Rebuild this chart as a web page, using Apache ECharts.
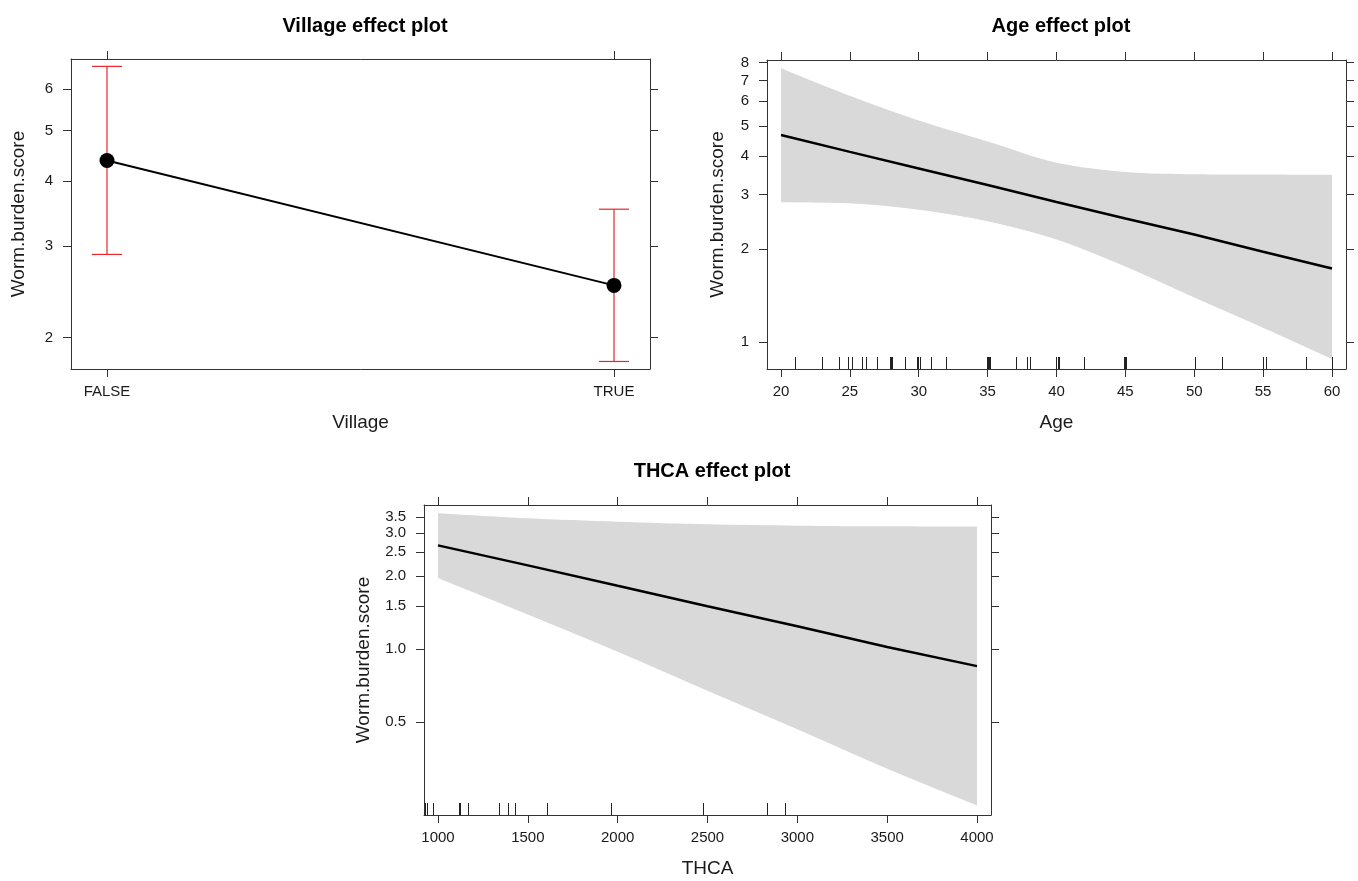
<!DOCTYPE html>
<html><head><meta charset="utf-8">
<script src="https://cdn.jsdelivr.net/npm/echarts@6/dist/echarts.min.js"></script>
<style>html,body{margin:0;padding:0;background:#fff}#c{width:1358px;height:881px}</style>
</head><body><div id="c"></div>
<script>
// ---------- data ----------
const villageLevels = ['FALSE', 'TRUE'];
const villageFit = [4.38, 2.52];
const villageLower = [2.89, 1.80];
const villageUpper = [6.64, 3.53];
const villageYTicks = [2, 3, 4, 5, 6];

const ageX = [20, 25, 30, 35, 40, 45, 50, 55, 60];
const ageFit = [4.67, 4.12, 3.64, 3.22, 2.84, 2.51, 2.23, 1.96, 1.73];
const ageUpper = [7.67, 6.25, 5.20, 4.45, 3.80, 3.55, 3.49, 3.48, 3.47];
const ageLower = [2.82, 2.80, 2.67, 2.45, 2.14, 1.75, 1.39, 1.11, 0.88];
const ageXTicks = [20, 25, 30, 35, 40, 45, 50, 55, 60];
const ageYTicks = [1, 2, 3, 4, 5, 6, 7, 8];
const ageRug = [21, 23, 24.2, 24.9, 25.2, 25.9, 26.2, 27, 27.9, 28, 28.1, 29, 29.9, 30, 30.1, 30.9, 32,
  35, 35.05, 35.1, 35.2, 37.1, 37.9, 38.1, 40, 40.1, 40.2, 42, 44.9, 45, 45.05, 45.1, 50.1, 52, 55, 55.2, 58.1, 60, 60.05];

const thcaX = [1000, 1500, 2000, 2500, 3000, 3500, 4000];
const thcaFit = [2.67, 2.21, 1.82, 1.50, 1.24, 1.02, 0.85];
const thcaUpper = [3.62, 3.45, 3.34, 3.26, 3.22, 3.20, 3.19];
const thcaLower = [1.95, 1.38, 0.97, 0.67, 0.465, 0.32, 0.226];
const thcaXTicks = [1000, 1500, 2000, 2500, 3000, 3500, 4000];
const thcaYTicks = [0.5, 1.0, 1.5, 2.0, 2.5, 3.0, 3.5];
const thcaYLabels = ['0.5', '1.0', '1.5', '2.0', '2.5', '3.0', '3.5'];
const thcaRug = [929, 939, 976, 1120, 1126, 1170, 1341, 1392, 1429, 1606, 1965, 2476, 2835, 2935];

const titles = ['Village effect plot', 'Age effect plot', 'THCA effect plot'];
const yName = 'Worm.burden.score';

// ---------- helpers ----------
const ln = Math.log;
const FONT = '"Liberation Sans", Arial, Helvetica, sans-serif';
const LINE = '#333';
const TXT = '#1a1a1a';
const BAND = '#d9d9d9';

function nearestLabel(v, vals, labels) {
  let best = 0, d = Infinity;
  vals.forEach((t, i) => { const dd = Math.abs(t - v); if (dd < d) { d = dd; best = i; } });
  return labels[best];
}

const grids = [
  { left: 71, top: 59, width: 579, height: 310 },
  { left: 767, top: 60, width: 579, height: 309 },
  { left: 424, top: 505, width: 567, height: 310 }
];

const xAxes = [], yAxes = [], series = [];

function addPanel(gi, cfg) {
  const base = xAxes.length;
  const ybase = yAxes.length;
  const common = { gridIndex: gi, type: 'value', min: cfg.xmin, max: cfg.xmax, splitLine: { show: false }, z: 10 };
  xAxes.push(Object.assign({}, common, {
    position: 'bottom',
    axisLine: { onZero: false, lineStyle: { color: LINE, width: 1 } },
    axisTick: { customValues: cfg.xTicks, length: 8, lineStyle: { color: LINE } },
    axisLabel: { customValues: cfg.xTicks, margin: 15, fontSize: 15, color: TXT, fontFamily: FONT,
      formatter: v => nearestLabel(v, cfg.xTicks, cfg.xLabels) },
    name: cfg.xName, nameLocation: 'middle', nameGap: 44,
    nameTextStyle: { fontSize: 19, color: TXT, fontFamily: FONT }
  }));
  xAxes.push(Object.assign({}, common, {
    position: 'top',
    axisLine: { onZero: false, lineStyle: { color: LINE, width: 1 } },
    axisTick: { customValues: cfg.xTicks, length: 8, lineStyle: { color: LINE } },
    axisLabel: { show: false }
  }));
  if (cfg.rug) {
    xAxes.push(Object.assign({}, common, {
      position: 'bottom',
      axisLine: { show: false, onZero: false },
      axisTick: { customValues: cfg.rug, inside: true, length: 12, lineStyle: { color: '#222', width: 1 } },
      axisLabel: { show: false }
    }));
  }
  const ycommon = { gridIndex: gi, type: 'value', min: cfg.ymin, max: cfg.ymax, splitLine: { show: false }, z: 10 };
  const yT = cfg.yTicks.map(ln);
  yAxes.push(Object.assign({}, ycommon, {
    position: 'left',
    axisLine: { onZero: false, lineStyle: { color: LINE, width: 1 } },
    axisTick: { customValues: yT, length: 8, lineStyle: { color: LINE } },
    axisLabel: { customValues: yT, margin: 18, fontSize: 15, color: TXT, fontFamily: FONT,
      formatter: v => nearestLabel(v, yT, cfg.yLabels) },
    name: yName, nameLocation: 'middle', nameGap: cfg.yNameGap,
    nameTextStyle: { fontSize: 19, color: TXT, fontFamily: FONT }
  }));
  yAxes.push(Object.assign({}, ycommon, {
    position: 'right',
    axisLine: { onZero: false, lineStyle: { color: LINE, width: 1 } },
    axisTick: { customValues: yT, length: 8, lineStyle: { color: LINE } },
    axisLabel: { show: false }
  }));
  return { xi: base, yi: ybase };
}

// confidence band: grey area under the smoothed upper edge, white area under the smoothed lower edge
function bandSeries(idx, xs, lower, upper) {
  const mk = (vals, color, z, stroke) => ({
    type: 'line', xAxisIndex: idx.xi, yAxisIndex: idx.yi, z: z, silent: true,
    data: xs.map((x, i) => [x, ln(vals[i])]), symbol: 'none', smooth: 0.3,
    lineStyle: stroke ? { width: 1, color: stroke } : { width: 0, opacity: 0 },
    areaStyle: { origin: 'start', color: color, opacity: 1 }
  });
  return [mk(upper, BAND, 1), mk(lower, '#ffffff', 1.5, '#ffffff')];
}

// ---------- Village panel ----------
const vIdx = addPanel(0, {
  xmin: 0.929, xmax: 2.071, xTicks: [1, 2], xLabels: villageLevels, xName: 'Village',
  ymin: ln(1.741), ymax: ln(6.86), yTicks: villageYTicks, yLabels: villageYTicks.map(String), yNameGap: 43
});
series.push({
  type: 'custom', xAxisIndex: vIdx.xi, yAxisIndex: vIdx.yi, z: 2, silent: true,
  data: villageLevels.map((_, i) => [i + 1, ln(villageLower[i]), ln(villageUpper[i])]),
  encode: { x: 0, y: [1, 2] },
  renderItem: (params, api) => {
    const x = api.value(0);
    const lo = api.coord([x, api.value(1)]);
    const hi = api.coord([x, api.value(2)]);
    const hw = 15;
    const st = { stroke: '#e8262b', lineWidth: 1.2 };
    return { type: 'group', children: [
      { type: 'line', shape: { x1: lo[0], y1: lo[1], x2: hi[0], y2: hi[1] }, style: st },
      { type: 'line', shape: { x1: lo[0] - hw, y1: lo[1], x2: lo[0] + hw, y2: lo[1] }, style: st },
      { type: 'line', shape: { x1: hi[0] - hw, y1: hi[1], x2: hi[0] + hw, y2: hi[1] }, style: st }
    ] };
  }
});
series.push({
  type: 'line', xAxisIndex: vIdx.xi, yAxisIndex: vIdx.yi, z: 3, silent: true,
  data: villageFit.map((v, i) => [i + 1, ln(v)]),
  symbol: 'circle', symbolSize: 15, itemStyle: { color: '#000' },
  lineStyle: { color: '#000', width: 2 }
});

// ---------- Age panel ----------
const aIdx = addPanel(1, {
  xmin: 18.9837, xmax: 61.0167, xTicks: ageXTicks, xLabels: ageXTicks.map(String), xName: 'Age', rug: ageRug,
  ymin: -0.1985, ymax: 2.099, yTicks: ageYTicks, yLabels: ageYTicks.map(String), yNameGap: 40
});
series.push(...bandSeries(aIdx, ageX, ageLower, ageUpper));
series.push({
  type: 'line', xAxisIndex: aIdx.xi, yAxisIndex: aIdx.yi, z: 3, silent: true,
  data: ageX.map((x, i) => [x, ln(ageFit[i])]), symbol: 'none',
  lineStyle: { color: '#000', width: 2.5 }
});

// ---------- THCA panel ----------
const tIdx = addPanel(2, {
  xmin: 922.08, xmax: 4077.9, xTicks: thcaXTicks, xLabels: thcaXTicks.map(String), xName: 'THCA', rug: thcaRug,
  ymin: ln(0.2073), ymax: ln(3.916), yTicks: thcaYTicks, yLabels: thcaYLabels, yNameGap: 51
});
series.push(...bandSeries(tIdx, thcaX, thcaLower, thcaUpper));
series.push({
  type: 'line', xAxisIndex: tIdx.xi, yAxisIndex: tIdx.yi, z: 3, silent: true,
  data: thcaX.map((x, i) => [x, ln(thcaFit[i])]), symbol: 'none',
  lineStyle: { color: '#000', width: 2.5 }
});

const titleStyle = { fontSize: 20, fontWeight: 'bold', color: '#000', fontFamily: FONT };
const chart = echarts.init(document.getElementById('c'), null, { renderer: 'canvas' });
chart.setOption({
  backgroundColor: '#fff',
  animation: false,
  title: [
    { text: titles[0], left: 360, top: 11, textAlign: 'center', textStyle: titleStyle },
    { text: titles[1], left: 1056, top: 11, textAlign: 'center', textStyle: titleStyle },
    { text: titles[2], left: 707, top: 456, textAlign: 'center', textStyle: titleStyle }
  ],
  grid: grids,
  xAxis: xAxes,
  yAxis: yAxes,
  series: series
});
</script></body></html>
